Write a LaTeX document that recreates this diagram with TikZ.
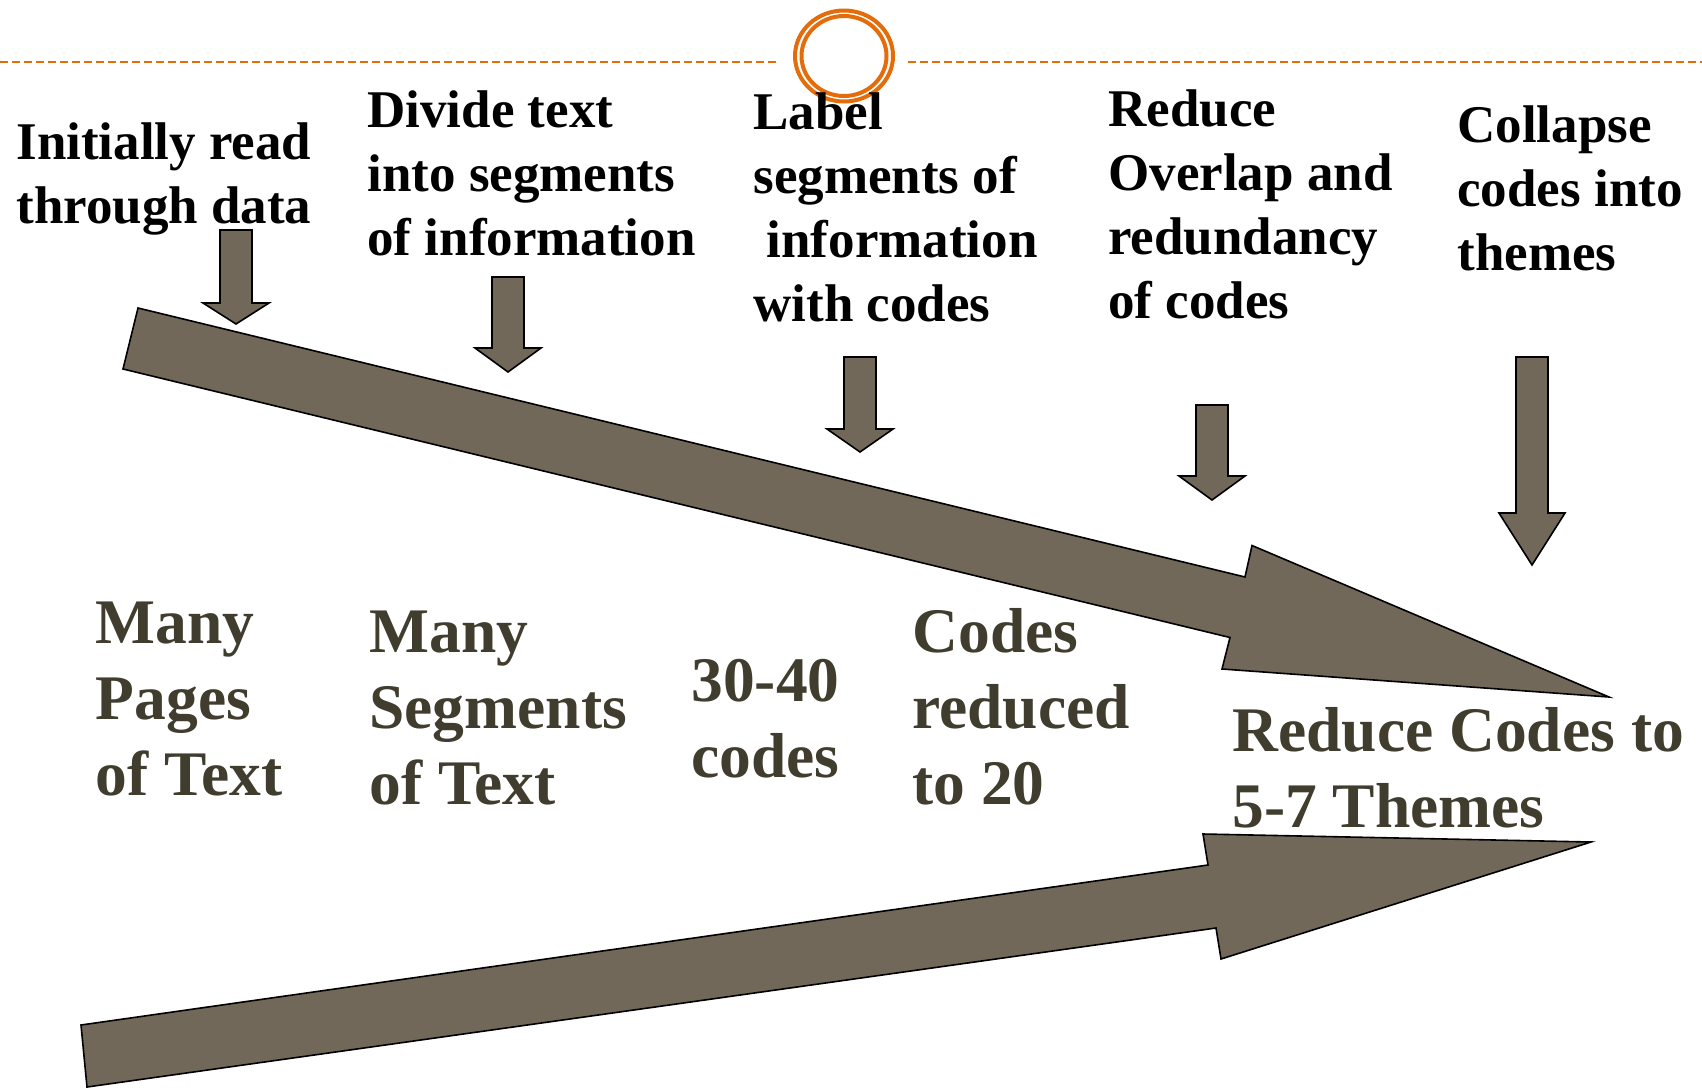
\documentclass[tikz,border=0pt]{standalone}
\usepackage{fontspec}
\setmainfont{Liberation Serif}
\definecolor{rule}{RGB}{228,108,10}
\definecolor{arrowfill}{RGB}{113,104,89}
\definecolor{stagetext}{RGB}{64,61,46}
\tikzset{
  bigarrow/.style={fill=arrowfill, draw=black, line width=0.8pt, line join=miter},
  stepfont/.style={inner sep=0pt, anchor=base west, text=black,
    font=\fontsize{26.5}{32}\selectfont\bfseries},
  stagefont/.style={inner sep=0pt, anchor=base west, text=stagetext,
    font=\fontsize{31.75}{38}\selectfont\bfseries},
  topline/.style={draw=rule, line width=1pt, dash pattern=on 4pt off 2pt},
  ring/.style={draw=rule, line width=2pt}
}
% block arrow pointing down: centre x, top y, head y, tip y
\newcommand{\blockdown}[4]{%
  \draw[bigarrow] ({#1-16},#2) -- ({#1+16},#2) -- ({#1+16},#3) -- ({#1+33},#3)
    -- (#1,#4) -- ({#1-33},#3) -- ({#1-16},#3) -- cycle;}
\newcommand{\lines}[1]{\begin{tabular}[t]{@{}l@{}}#1\end{tabular}}
\begin{document}
\begin{tikzpicture}[x=0.5pt, y=-0.5pt]
\useasboundingbox (0,0) rectangle (1702,1087);

% header rule with the ring emblem
\coordinate (ruleL) at (0,61.5);
\coordinate (ruleLend) at (778,61.5);
\coordinate (ruleR) at (908,61.5);
\coordinate (ruleRend) at (1702,61.5);
\draw[topline] (ruleL) -- (ruleLend);
\draw[topline] (ruleR) -- (ruleRend);
\coordinate (emblem) at (844,56);
\draw[ring] (emblem) ellipse [x radius=49, y radius=45.5];
\draw[ring] (emblem) ellipse [x radius=42.5, y radius=40];

% large arrow running down towards the themes
\draw[bigarrow] (138,308) -- (1245,577) -- (1252,545.5) -- (1609,697)
  -- (1222,669) -- (1230,637.5) -- (123,369) -- cycle;
% large arrow running up towards the themes
\draw[bigarrow] (81,1025) -- (1208,865) -- (1203,834) -- (1591,842)
  -- (1221,959) -- (1216,928) -- (87,1087) -- cycle;

% step arrows
\blockdown{236}{230}{303}{324}
\blockdown{508}{277}{348}{372}
\blockdown{860}{357}{429}{452}
\blockdown{1212}{405}{476}{500}
\blockdown{1532}{357}{513}{565}

% step descriptions
\node[stepfont] (read) at (16,159) {\lines{Initially read\\through data}};
\node[stepfont] (divide) at (367,127) {\lines{Divide text\\into segments\\of information}};
\node[stepfont] (label) at (753,129.5) {\lines{Label\\segments of\\\hspace*{0.25em}information\\with codes}};
\node[stepfont] (reduce) at (1108,126) {\lines{Reduce\\Overlap and\\redundancy\\of codes}};
\node[stepfont] (collapse) at (1457,142.5) {\lines{Collapse\\codes into\\themes}};

% stage quantities
\node[stagefont] (pages) at (95.5,643) {\lines{Many\\Pages\\of Text}};
\node[stagefont] (segments) at (369,652) {\lines{Many\\Segments\\of Text}};
\node[stagefont] (codes) at (691,701) {\lines{30-40\\codes}};
\node[stagefont] (twenty) at (912,652) {\lines{Codes\\reduced\\to 20}};
\node[stagefont] (themes) at (1232,751.5) {\lines{Reduce Codes to\\5-7 Themes}};
\end{tikzpicture}
\end{document}
